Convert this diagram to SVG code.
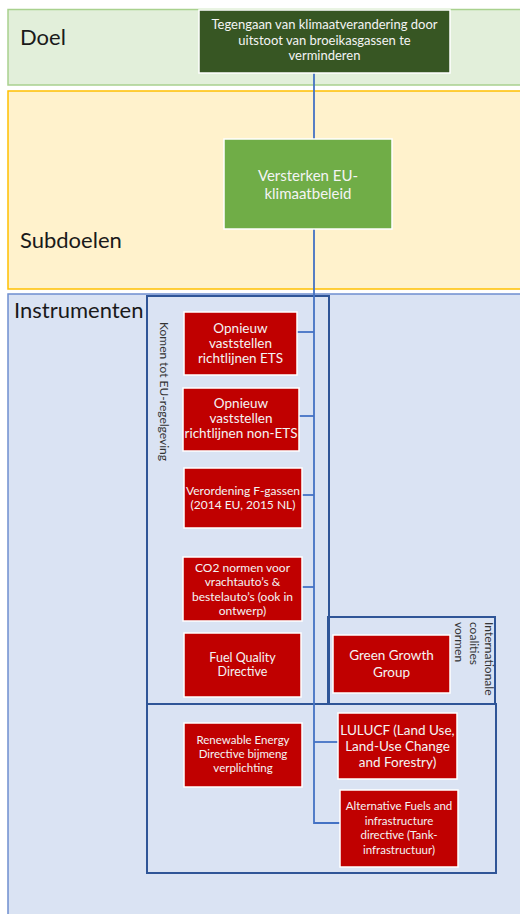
<svg xmlns="http://www.w3.org/2000/svg" width="520" height="914" viewBox="0 0 520 914">
<style>
.band-label{font-family:Lato,"Liberation Sans",sans-serif;font-size:22px;fill:#1a1a1a}
.node text,.vlabel{font-family:Lato,"Liberation Sans",sans-serif;text-anchor:middle}
.node text{fill:#f4f4f4}
.red{fill:#c00000;stroke:#ffffff;stroke-width:1.5}
.frame{fill:none;stroke:#2f5597;stroke-width:2}
.conn line,.conn polyline{stroke:#4472c4;stroke-width:1.8;fill:none}
.vlabel{fill:#333333;font-size:12px;text-anchor:start}
</style>
<rect x="0" y="0" width="520" height="914" fill="#ffffff"/>
<g id="bands">
<rect x="8" y="9.5" width="520" height="75.5" fill="#e2efda" stroke="#a9d18e" stroke-width="1.5"/>
<rect x="8" y="91" width="520" height="198" fill="#fff2cc" stroke="#ffc000" stroke-width="1.5"/>
<rect x="8" y="294" width="520" height="630" fill="#dae3f3" stroke="#6f8fd0" stroke-width="1.5"/>
<text class="band-label" x="20" y="45">Doel</text>
<text class="band-label" x="20" y="248">Subdoelen</text>
<text class="band-label" x="14" y="318">Instrumenten</text>
</g>
<g id="frames">
<rect class="frame" x="147" y="296" width="182" height="408"/>
<rect class="frame" x="328" y="617" width="167" height="87"/>
<rect class="frame" x="147" y="704" width="349" height="169"/>
<text class="vlabel" transform="translate(160,322) rotate(90)">Komen tot EU-regelgeving</text>
<text class="vlabel" transform="translate(485,622) rotate(90)">Internationale</text>
<text class="vlabel" transform="translate(470,622) rotate(90)">coalities</text>
<text class="vlabel" transform="translate(455,622) rotate(90)">vormen</text>
</g>
<g id="connectors" class="conn">
<line x1="314" y1="73" x2="314" y2="139"/>
<polyline points="314,229 314,823 340,823"/>
<line x1="297" y1="332" x2="314" y2="332"/>
<line x1="299" y1="416" x2="314" y2="416"/>
<line x1="302" y1="495" x2="314" y2="495"/>
<line x1="302" y1="587" x2="314" y2="587"/>
<line x1="314" y1="742" x2="338" y2="742"/>
</g>
<g id="node-doel" class="node">
<rect x="199" y="10" width="251" height="63" fill="#375623" stroke="#ffffff" stroke-width="1.5"/>
<text font-size="13"><tspan x="324.5" y="29">Tegengaan van klimaatverandering door</tspan><tspan x="324.5" y="45">uitstoot van broeikasgassen te</tspan><tspan x="324.5" y="60">verminderen</tspan></text>
</g>
<g id="node-subdoel" class="node">
<rect x="224" y="139" width="168" height="90" fill="#70ad47" stroke="#ffffff" stroke-width="1.5"/>
<text font-size="15"><tspan x="308" y="181">Versterken EU-</tspan><tspan x="308" y="199">klimaatbeleid</tspan></text>
</g>
<g id="node-ets" class="node">
<rect class="red" x="184" y="312" width="113" height="63"/>
<text font-size="13.5"><tspan x="240.5" y="333">Opnieuw</tspan><tspan x="240.5" y="348">vaststellen</tspan><tspan x="240.5" y="363">richtlijnen ETS</tspan></text>
</g>
<g id="node-nonets" class="node">
<rect class="red" x="183" y="388" width="116" height="63"/>
<text font-size="13.5"><tspan x="241" y="408">Opnieuw</tspan><tspan x="241" y="423">vaststellen</tspan><tspan x="241" y="438">richtlijnen non-ETS</tspan></text>
</g>
<g id="node-fgassen" class="node">
<rect class="red" x="184" y="468" width="118" height="60"/>
<text font-size="12"><tspan x="243" y="495">Verordening F-gassen</tspan><tspan x="243" y="509">(2014 EU, 2015 NL)</tspan></text>
</g>
<g id="node-co2" class="node">
<rect class="red" x="183" y="557" width="119" height="64"/>
<text font-size="12"><tspan x="242.5" y="572">CO2 normen voor</tspan><tspan x="242.5" y="586">vrachtauto’s &amp;</tspan><tspan x="242.5" y="601">bestelauto’s (ook in</tspan><tspan x="242.5" y="615">ontwerp)</tspan></text>
</g>
<g id="node-fqd" class="node">
<rect class="red" x="184" y="633" width="117" height="64"/>
<text font-size="12.5"><tspan x="242.5" y="662">Fuel Quality</tspan><tspan x="242.5" y="676">Directive</tspan></text>
</g>
<g id="node-ggg" class="node">
<rect class="red" x="333" y="635" width="117" height="58"/>
<text font-size="13.5"><tspan x="391.5" y="660">Green Growth</tspan><tspan x="391.5" y="677">Group</tspan></text>
</g>
<g id="node-red" class="node">
<rect class="red" x="184" y="723" width="118" height="64"/>
<text font-size="11.5"><tspan x="243" y="744">Renewable Energy</tspan><tspan x="243" y="758">Directive bijmeng</tspan><tspan x="243" y="772">verplichting</tspan></text>
</g>
<g id="node-lulucf" class="node">
<rect class="red" x="338" y="713" width="119" height="66"/>
<text font-size="13.5"><tspan x="397.5" y="735">LULUCF  (Land Use,</tspan><tspan x="397.5" y="751">Land-Use Change</tspan><tspan x="397.5" y="767">and Forestry)</tspan></text>
</g>
<g id="node-afid" class="node">
<rect class="red" x="340" y="790" width="118" height="77"/>
<text font-size="11.5"><tspan x="399" y="810">Alternative Fuels and</tspan><tspan x="399" y="824.5">infrastructure</tspan><tspan x="399" y="839">directive (Tank-</tspan><tspan x="399" y="853.5">infrastructuur)</tspan></text>
</g>
</svg>
